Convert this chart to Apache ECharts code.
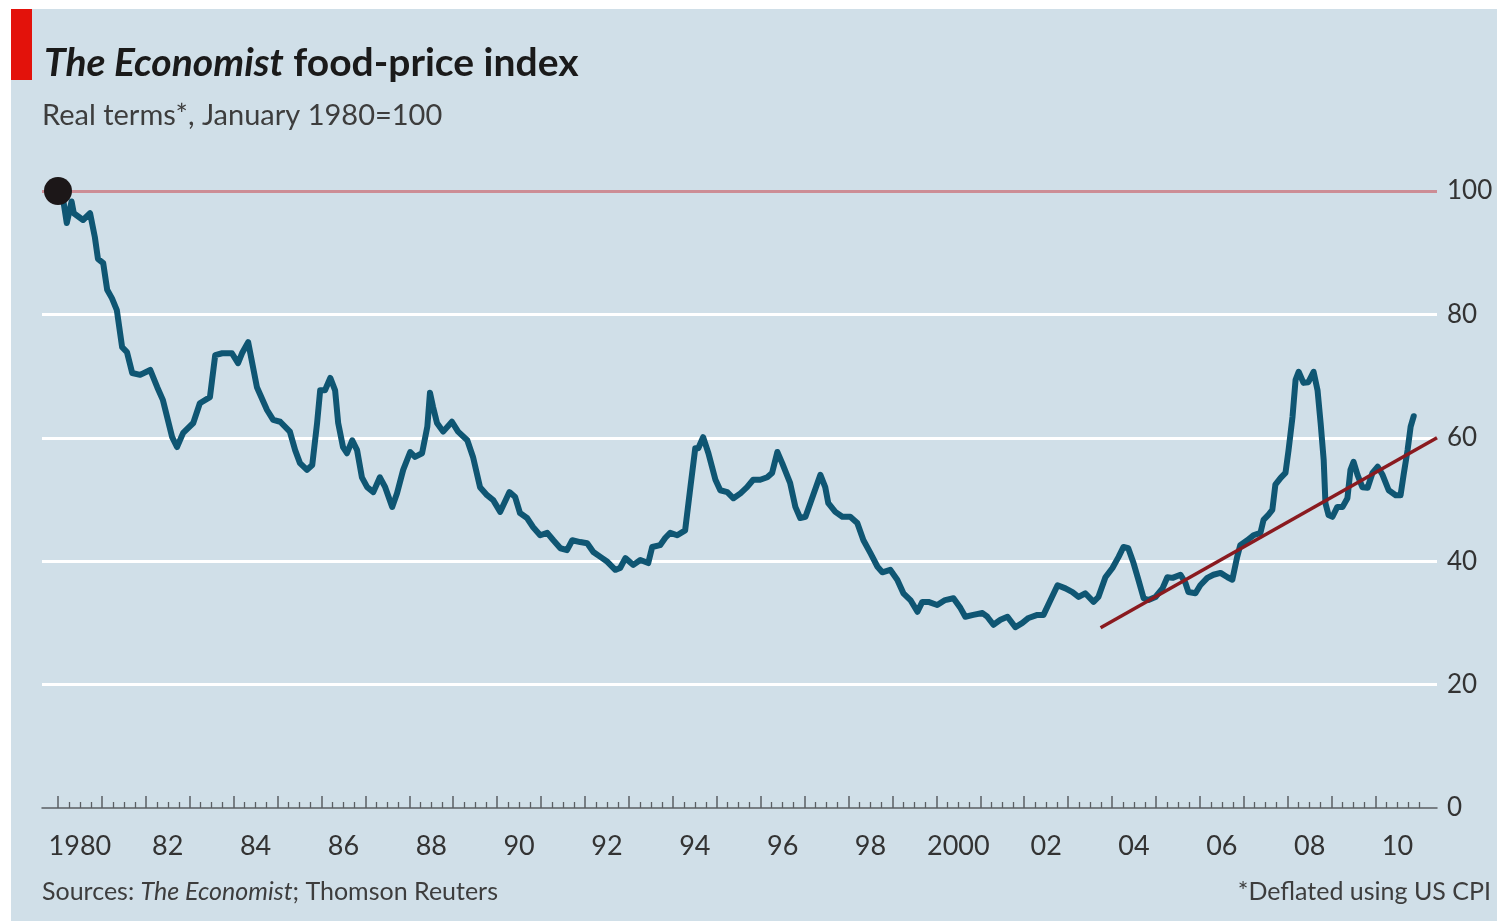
<!DOCTYPE html>
<html>
<head>
<meta charset="utf-8">
<script src="https://cdn.jsdelivr.net/npm/echarts@6/dist/echarts.min.js"></script>
<style>
html,body{margin:0;padding:0;background:#ffffff;}
#main{position:absolute;left:0;top:0;width:1497px;height:921px;}
</style>
</head>
<body>
<div id="main"></div>
<script>
// ---- data (decimal year, index value) ----
const years = [
1980.00,1980.12,1980.20,1980.31,1980.36,1980.57,1980.73,1980.84,1980.91,1981.03,1981.12,1981.23,1981.34,1981.46,1981.57,1981.69,1981.87,
1982.10,1982.26,1982.39,1982.60,1982.71,1982.85,1983.08,1983.23,1983.46,1983.58,1983.74,1983.96,1984.10,1984.19,1984.33,1984.53,1984.76,1984.90,
1985.06,1985.28,1985.40,1985.51,1985.67,1985.79,1985.90,1985.97,1986.08,1986.20,1986.31,1986.38,1986.49,1986.58,1986.70,1986.81,1986.92,
1987.04,1987.18,1987.33,1987.45,1987.61,1987.72,1987.86,1988.02,1988.13,1988.29,1988.41,1988.47,1988.54,1988.63,1988.77,1988.97,
1989.11,1989.32,1989.45,1989.61,1989.77,1989.91,1990.07,1990.28,1990.41,1990.52,1990.68,1990.82,1990.98,1991.14,1991.28,1991.44,1991.59,1991.71,1991.89,
1992.05,1992.19,1992.35,1992.51,1992.69,1992.80,1992.92,1993.10,1993.26,1993.44,1993.53,1993.71,1993.83,1993.94,1994.10,1994.28,1994.40,1994.51,1994.58,1994.69,1994.81,1994.97,
1995.08,1995.24,1995.38,1995.54,1995.69,1995.83,1995.99,1996.15,1996.26,1996.38,1996.49,1996.67,1996.79,1996.90,1997.02,1997.18,1997.36,1997.47,1997.54,1997.70,1997.86,
1998.04,1998.20,1998.34,1998.50,1998.66,1998.77,1998.95,1999.11,1999.25,1999.41,1999.57,1999.68,1999.82,2000.02,2000.20,2000.39,2000.55,2000.66,2000.84,
2001.05,2001.16,2001.30,2001.46,2001.62,2001.80,2001.96,2002.10,2002.30,2002.44,2002.60,2002.76,2002.94,2003.10,2003.24,2003.39,2003.58,2003.69,2003.85,
2004.01,2004.15,2004.26,2004.37,2004.49,2004.60,2004.72,2004.83,2004.99,2005.15,2005.26,2005.38,2005.56,2005.67,2005.74,2005.90,
2006.01,2006.17,2006.31,2006.47,2006.63,2006.74,2006.85,2006.92,2007.08,2007.22,2007.38,2007.45,2007.56,2007.65,2007.72,2007.84,2007.95,
2008.02,2008.11,2008.18,2008.25,2008.36,2008.47,2008.59,2008.68,2008.75,2008.82,2008.86,2008.93,2009.02,2009.13,2009.25,2009.36,2009.43,2009.50,2009.59,2009.70,2009.82,2009.93,
2010.05,2010.16,2010.30,2010.46,2010.57,2010.64,2010.73,2010.80,2010.87
];
const foodIndex = [
100,98.5,94.8,98.3,96.4,95.3,96.4,92.5,89,88.3,84,82.6,80.7,74.7,73.9,70.5,70.2,
71,68.2,66.1,60.1,58.5,60.8,62.4,65.6,66.6,73.4,73.7,73.7,72.1,73.7,75.5,68.2,64.5,62.9,
62.6,61,58,55.9,54.8,55.6,62.4,67.7,67.7,69.7,67.7,62.4,58.5,57.5,59.6,58,53.6,
52,51.2,53.6,52,48.8,51,54.8,57.7,56.9,57.5,61.8,67.3,65,62.4,61,62.6,
61,59.6,56.9,52,50.7,49.9,48,51.2,50.4,47.8,47,45.5,44.2,44.6,43.4,42.1,41.8,43.4,43.1,
42.9,41.5,40.7,39.9,38.6,38.9,40.5,39.4,40.2,39.7,42.3,42.6,43.8,44.6,44.2,45,52,58.3,58.3,60.1,57.5,53.2,
51.5,51.2,50.2,51,52,53.2,53.2,53.6,54.3,57.7,55.9,52.7,48.8,47,47.2,50.4,54,52,49.4,48,47.2,
47.2,46.2,43.4,41.3,39.1,38.2,38.6,37,34.8,33.7,31.8,33.4,33.4,32.9,33.7,34,32.4,31,31.3,
31.6,31,29.7,30.5,31,29.3,30,30.8,31.3,31.3,33.7,36.1,35.6,35,34.2,34.8,33.4,34.2,37.4,
38.9,40.7,42.3,42.1,39.7,37,34,33.7,34.2,35.6,37.4,37.3,37.8,36.5,35,34.8,
36.1,37.3,37.8,38.1,37.4,37,40.7,42.6,43.4,44.2,44.6,46.7,47.5,48.3,52.4,53.5,54.3,
58,63.4,69.4,70.7,68.9,69,70.7,67.7,62.4,56.4,49.4,47.5,47.2,48.8,48.8,50.2,54.8,56.1,54,52,51.9,54.3,
55.3,54,51.5,50.7,50.7,54,58,61.8,63.5
];
const trendYears = [2003.74, 2011.40];
const trendValues = [29.2, 60.0];
const startPoint = [1980.0, 100];
const xTickLabels = ['1980','82','84','86','88','90','92','94','96','98','2000','02','04','06','08','10'];

const lineData = years.map((y,i)=>[y, foodIndex[i]]);
const trendData = trendYears.map((y,i)=>[y, trendValues[i]]);
const labelPos = xTickLabels.map((t,i)=>1980.5 + 2*i);
const majorTicks = []; for (let y=1980; y<=2010; y++) majorTicks.push(y);
const minorTicks = []; for (let q=1980.25; q<=2011.01; q+=0.25) { if (Math.abs(q-Math.round(q))>0.01) minorTicks.push(+q.toFixed(2)); }
minorTicks.push(2011);

const FONT = "Lato,'Noto Sans',sans-serif";
const XMIN = 1979.636, XMAX = 2011.40;

const chart = echarts.init(document.getElementById('main'));
chart.setOption({
  backgroundColor: 'transparent',
  animation: false,
  graphic: [
    {type:'rect', z:-100, shape:{x:11,y:9,width:1486,height:912}, style:{fill:'#d0dfe8'}, silent:true},
    {type:'rect', z:10, shape:{x:11,y:9,width:21,height:71}, style:{fill:'#e3120b'}},
    {type:'text', left:44, top:44, z:10, style:{
      text:'{i|The Economist} food-price index',
      font:"bold 39px " + FONT, fill:'#1a1a1a',
      rich:{i:{fontStyle:'italic', fontWeight:'bold', fontSize:39, fontFamily:FONT, fill:'#1a1a1a'}}
    }},
    {type:'text', left:42, top:101, z:10, style:{text:'Real terms*, January 1980=100', font:"29px " + FONT, fill:'#3d3d3d'}},
    {type:'text', left:42, top:879, z:10, style:{
      text:'Sources: {i|The Economist}; Thomson Reuters', font:"25px " + FONT, fill:'#3d3d3d',
      rich:{i:{fontStyle:'italic', fontSize:25, fontFamily:FONT, fill:'#3d3d3d'}}
    }},
    {type:'text', right:6, top:879, z:10, style:{text:'*Deflated using US CPI', font:"25px " + FONT, fill:'#3d3d3d'}}
  ],
  grid: {left:42, right:60, top:191, bottom:113, containLabel:false},
  xAxis: [
    {type:'value', min:XMIN, max:XMAX, position:'bottom',
     axisLine:{show:true, lineStyle:{color:'#5a5f63', width:1.5}},
     axisTick:{show:true, inside:true, length:12, customValues:majorTicks, lineStyle:{color:'#5a5f63', width:1.5}},
     axisLabel:{show:true, customValues:labelPos, margin:25, fontSize:27, fontFamily:FONT, color:'#333',
       formatter:(v)=>xTickLabels[Math.round((v-1980.5)/2)]},
     splitLine:{show:false}},
    {type:'value', min:XMIN, max:XMAX, position:'bottom',
     axisLine:{show:false},
     axisTick:{show:true, inside:true, length:6, customValues:minorTicks, lineStyle:{color:'#5a5f63', width:1.3}},
     axisLabel:{show:false}, splitLine:{show:false}}
  ],
  yAxis: {type:'value', min:0, max:100, interval:20, position:'right',
    axisLine:{show:false}, axisTick:{show:false},
    axisLabel:{margin:10, fontSize:26, fontFamily:FONT, color:'#333'},
    splitLine:{show:true, lineStyle:{color:['rgba(0,0,0,0)','#ffffff','#ffffff','#ffffff','#ffffff','#cc8d95'], width:3}}
  },
  series: [
    {type:'line', data:lineData, showSymbol:false, symbol:'none', clip:false,
     lineStyle:{color:'#0f5673', width:6, join:'round', cap:'round'}, z:3},
    {type:'line', data:trendData, showSymbol:false, symbol:'none', clip:false,
     lineStyle:{color:'#8a1a1f', width:3.5}, z:4},
    {type:'scatter', data:[startPoint], symbolSize:28, clip:false,
     itemStyle:{color:'#1c1718', opacity:1}, z:5}
  ]
});
</script>
</body>
</html>
